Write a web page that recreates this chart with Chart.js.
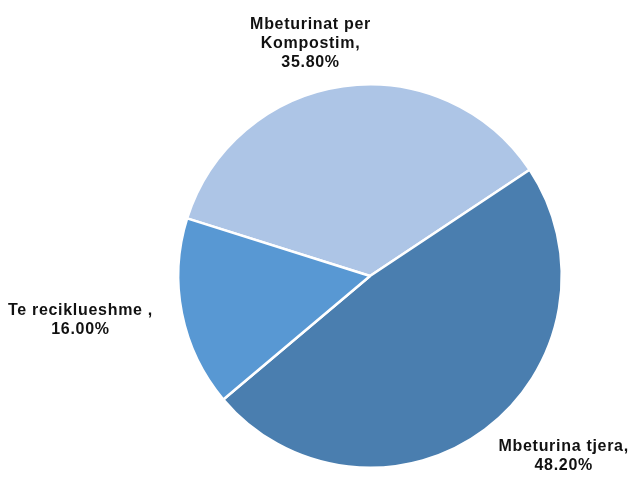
<!DOCTYPE html>
<html>
<head>
<meta charset="utf-8">
<script src="https://cdn.jsdelivr.net/npm/chart.js@4/dist/chart.umd.min.js"></script>
<style>
  html, body { margin: 0; padding: 0; background: #fff; }
  #wrap { width: 636px; height: 478px; position: relative; }
</style>
</head>
<body>
<div id="wrap"><canvas id="c"></canvas></div>
<script>
const categories = ['Mbeturinat per Kompostim', 'Mbeturina tjera', 'Te reciklueshme'];
const values = [35.8, 48.2, 16.0];
const labelLines = [
  ['Mbeturinat per', 'Kompostim,'],
  ['Mbeturina tjera,'],
  ['Te reciklueshme ,'],
];
const colors = ['#adc5e6', '#4a7eaf', '#5898d3'];

// label block centre, relative to pie centre, in units of the radius
const labelOffsets = [[-0.31, -1.21], [1.01, 0.94], [-1.51, 0.23]];

const outsideLabels = {
  id: 'outsideLabels',
  afterDatasetsDraw(chart) {
    const { ctx } = chart;
    const meta = chart.getDatasetMeta(0);
    ctx.save();
    ctx.font = 'bold 16px "Liberation Sans", Arial, sans-serif';
    ctx.letterSpacing = '0.7px';
    ctx.fillStyle = '#111';
    ctx.textAlign = 'center';
    ctx.textBaseline = 'middle';
    meta.data.forEach((arc, i) => {
      const r = arc.outerRadius;
      const cx = arc.x + labelOffsets[i][0] * r;
      const cy = arc.y + labelOffsets[i][1] * r;
      const lines = labelLines[i].concat([values[i].toFixed(2) + '%']);
      const lh = 19;
      const top = cy - (lines.length - 1) * lh / 2;
      lines.forEach((t, k) => ctx.fillText(t, cx, top + k * lh));
    });
    ctx.restore();
  },
};

new Chart(document.getElementById('c'), {
  type: 'pie',
  data: {
    labels: categories,
    datasets: [{
      data: values,
      backgroundColor: colors,
      borderColor: '#ffffff',
      borderWidth: 2.5,
      hoverOffset: 0,
    }],
  },
  options: {
    responsive: true,
    maintainAspectRatio: false,
    animation: false,
    rotation: -72.5,
    layout: { padding: { left: 176, right: 72, top: 83, bottom: 9 } },
    plugins: {
      legend: { display: false },
      tooltip: { enabled: false },
    },
  },
  plugins: [outsideLabels],
});
</script>
</body>
</html>
